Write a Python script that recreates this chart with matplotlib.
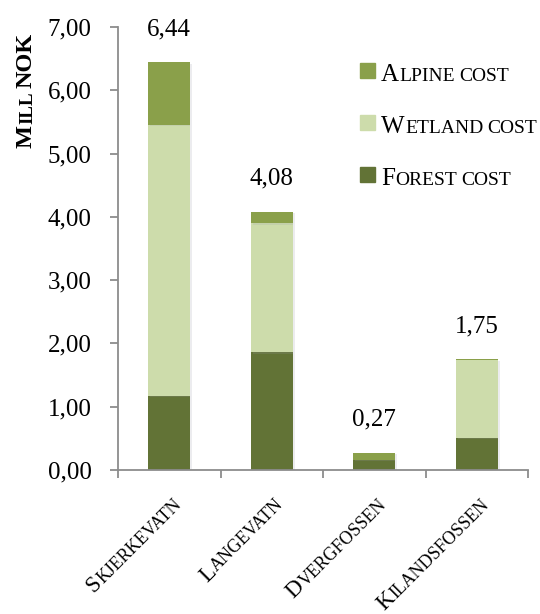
import matplotlib
matplotlib.use("Agg")
import matplotlib.pyplot as plt
import matplotlib.patheffects as pe
from matplotlib.patches import Rectangle
from matplotlib.font_manager import FontProperties
import numpy as np

# ---- data -------------------------------------------------------------
categories = ["Skjerkevatn", "Langevatn", "Dvergfossen", "Kilandsfossen"]
forest_cost = [1.17, 1.86, 0.16, 0.51]
wetland_cost = [4.28, 2.04, 0.00, 1.23]
alpine_cost = [0.99, 0.18, 0.11, 0.01]
series_names = ["Forest cost", "Wetland cost", "Alpine cost"]
y_ticks = [0, 1, 2, 3, 4, 5, 6, 7]
y_label = "Mill NOK"

# ---- style ------------------------------------------------------------
FONT = "Liberation Serif"
colors = {"Forest cost": "#627336", "Wetland cost": "#CDDCAB", "Alpine cost": "#8AA04A"}
axis_gray = "#8C8C8C"

W, H, DPI = 540, 614, 100
fig = plt.figure(figsize=(W / DPI, H / DPI), dpi=DPI)
ax = fig.add_axes([118 / W, 1 - 470 / H, (528 - 118) / W, (470 - 27) / H])
renderer = fig.canvas.get_renderer()


def comma(v):
    return f"{v:.2f}".replace(".", ",")


def small_caps_pieces(text):
    """Split text into runs: capitals stay full size, lowercase becomes small capitals."""
    pieces = []
    for ch in text:
        if ch == " ":
            pieces.append([" ", "space"])
            continue
        kind = "small" if ch.islower() else "big"
        if pieces and pieces[-1][1] == kind:
            pieces[-1][0] += ch.upper()
        else:
            pieces.append([ch.upper(), kind])
    return pieces


def draw_small_caps(text, xy, coords, size, rotation=0, align="left",
                    weight="normal", ratio=0.78, offset=(0, 0)):
    pieces = small_caps_pieces(text)
    widths, props = [], []
    for s, kind in pieces:
        fs = size * ratio if kind == "small" else size
        fp = FontProperties(family=FONT, size=fs, weight=weight)
        if kind == "space":
            w1 = renderer.get_text_width_height_descent("A A", fp, ismath=False)[0]
            w2 = renderer.get_text_width_height_descent("AA", fp, ismath=False)[0]
            w = w1 - w2
        else:
            w = renderer.get_text_width_height_descent(s, fp, ismath=False)[0] + 0.5
        widths.append(w)
        props.append(fs)
    total = sum(widths)
    pos = {"left": 0.0, "center": -total / 2, "right": -total}[align]
    th = np.deg2rad(rotation)
    ux, uy = np.cos(th), np.sin(th)
    for (s, kind), w, fs in zip(pieces, widths, props):
        if kind != "space":
            ax.annotate(s, xy=xy, xycoords=coords,
                        xytext=(offset[0] + pos * ux, offset[1] + pos * uy),
                        textcoords="offset pixels", rotation=rotation,
                        rotation_mode="anchor", ha="left", va="baseline",
                        fontsize=fs, family=FONT, weight=weight,
                        color="black", annotation_clip=False)
        pos += w


# ---- stacked bars -----------------------------------------------------
x = np.arange(len(categories))
bottom = np.zeros(len(categories))
shadow = [pe.SimplePatchShadow(offset=(1.5, -1.0), shadow_rgbFace="#9a9aa8", alpha=0.18),
          pe.Normal()]
for name, vals in zip(series_names, [forest_cost, wetland_cost, alpine_cost]):
    bars = ax.bar(x, vals, width=0.41, bottom=bottom, color=colors[name],
                  label=name, zorder=2)
    for b in bars:
        b.set_path_effects(shadow)
    bottom = bottom + np.array(vals)
totals = bottom

for xi, t in zip(x, totals):
    ax.annotate(comma(t), xy=(xi, t), xytext=(0, 27), textcoords="offset pixels",
                ha="center", va="baseline", fontsize=18, family=FONT)

# ---- axes -------------------------------------------------------------
ax.set_xlim(-0.5, len(categories) - 0.5)
ax.set_ylim(y_ticks[0], y_ticks[-1])
ax.set_yticks(y_ticks)
ax.set_yticklabels([comma(v) for v in y_ticks], family=FONT, fontsize=18)
ax.set_xticks(np.arange(len(categories) + 1) - 0.5)
ax.set_xticklabels([])
for side in ("top", "right"):
    ax.spines[side].set_visible(False)
for side in ("left", "bottom"):
    ax.spines[side].set_color(axis_gray)
    ax.spines[side].set_linewidth(1.3)
ax.tick_params(axis="both", direction="out", length=6, width=1.3, color=axis_gray)
ax.tick_params(axis="y", pad=13)

# category labels, rotated, in small capitals
for xi, cat in zip(x, categories):
    draw_small_caps(cat, (xi, 0), ax.get_xaxis_transform(), 16.5,
                    rotation=45, align="right", offset=(13, -35))

# axis title
draw_small_caps(y_label, (32, H - 90), "figure pixels", 17.5, rotation=90,
                align="center", weight="bold")

# ---- legend -----------------------------------------------------------
legend_rows = [("Alpine cost", 63), ("Wetland cost", 115), ("Forest cost", 167)]
for name, top in legend_rows:
    fig.add_artist(Rectangle((360 / W, 1 - (top + 15) / H), 15 / W, 15 / H,
                             transform=fig.transFigure, color=colors[name]))
    draw_small_caps(name, (381, H - (top + 18)), "figure pixels", 18)

fig.savefig("out.png", dpi=DPI)
